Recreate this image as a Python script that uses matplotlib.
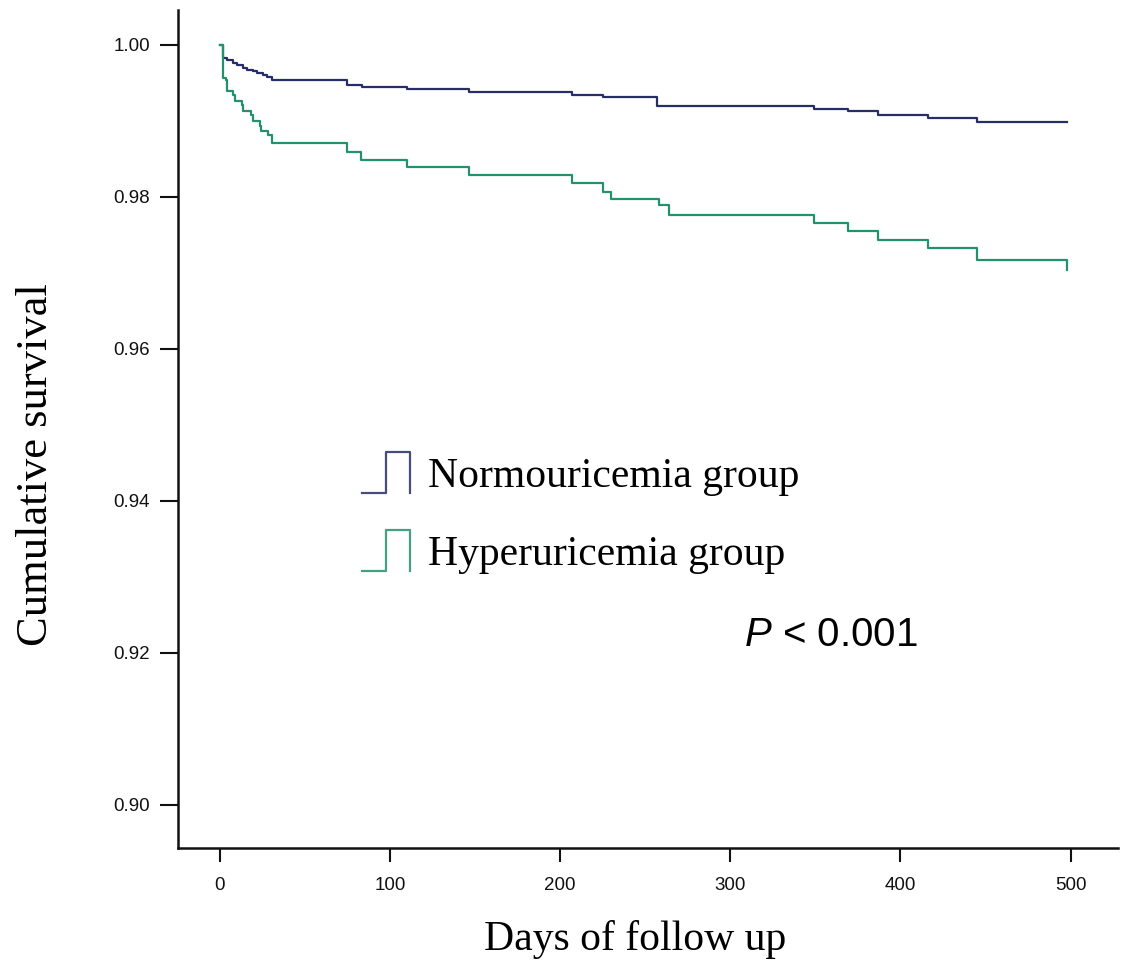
import numpy as np
import matplotlib
matplotlib.use("Agg")
import matplotlib.pyplot as plt
from matplotlib.legend_handler import HandlerBase
from matplotlib.lines import Line2D

# Kaplan-Meier step data (days, cumulative survival)
normo_days = [0, 1.8, 4, 7.6, 10, 13.5, 16, 19.4, 22, 25.3, 28, 30.4,
              75, 83.5, 110, 146.5, 207, 225, 257, 349, 369, 387, 416, 445, 498]
normo_surv = [1.0, 0.9983, 0.9980, 0.99759, 0.9973, 0.99693, 0.9967, 0.99649,
              0.9963, 0.99605, 0.9958, 0.9954, 0.9947, 0.99447, 0.9942, 0.99382,
              0.99342, 0.99307, 0.99188, 0.99158, 0.99122, 0.99079, 0.99035,
              0.98978, 0.98978]

hyper_days = [0, 1.6, 3.5, 4.5, 7.6, 8.8, 12.8, 13.5, 18.6, 19.4, 23.5, 24.5,
              28.4, 30.4, 75, 83, 110, 146.5, 207, 225, 230, 258, 264, 349,
              369, 387, 416, 445, 498]
hyper_surv = [1.0, 0.99561, 0.9954, 0.99386, 0.99342, 0.99254, 0.99211, 0.99123,
              0.99079, 0.98991, 0.98925, 0.98859, 0.98816, 0.98707, 0.98592,
              0.98487, 0.98395, 0.98289, 0.98184, 0.98066, 0.97974, 0.97886,
              0.97763, 0.97658, 0.97544, 0.97434, 0.97329, 0.97171, 0.9704]

x_ticks = [0, 100, 200, 300, 400, 500]
y_ticks = [0.90, 0.92, 0.94, 0.96, 0.98, 1.00]
labels = ["Normouricemia group", "Hyperuricemia group"]

NORMO_COLOR = "#272d66"
HYPER_COLOR = "#23916a"

plt.rcParams['mathtext.fontset'] = 'custom'
plt.rcParams['mathtext.rm'] = 'Liberation Sans'
plt.rcParams['mathtext.it'] = 'Liberation Sans:italic'


class StepHandler(HandlerBase):
    # little "_|‾|" survival-curve glyph used as legend key
    def create_artists(self, legend, orig_handle, xdescent, ydescent,
                       width, height, fontsize, trans):
        xs = np.array([0.0, 0.5, 0.5, 1.0, 1.0]) * width - xdescent
        ys = (np.array([0.0, 0.0, 1.0, 1.0, 0.0]) * 1.4 - 0.2) * height - ydescent
        line = Line2D(xs, ys, color=orig_handle.get_color(), lw=1.6, alpha=0.85)
        line.set_transform(trans)
        return [line]


fig = plt.figure(figsize=(11.25, 9.68), dpi=100)
ax = fig.add_axes([0.158, 0.124, 0.836, 0.866])

h1, = ax.step(normo_days, normo_surv, where='post', color=NORMO_COLOR, lw=1.6)
h2, = ax.step(hyper_days, hyper_surv, where='post', color=HYPER_COLOR, lw=1.6)

ax.set_xlim(-24.7, 528)
ax.set_ylim(0.8943, 1.0046)

ax.spines['top'].set_visible(False)
ax.spines['right'].set_visible(False)
for s in ('left', 'bottom'):
    ax.spines[s].set_linewidth(1.8)
    ax.spines[s].set_color('#111111')

ax.set_xticks(x_ticks)
ax.set_xticklabels([str(t) for t in x_ticks])
ax.set_yticks(y_ticks)
ax.set_yticklabels([f"{t:.2f}" for t in y_ticks])
ax.tick_params(axis='x', direction='out', length=10, width=1.5, pad=11,
               labelsize=13.5, colors='#111111')
ax.tick_params(axis='y', direction='out', length=13, width=1.5, pad=7,
               labelsize=13.5, colors='#111111')
for lab in ax.get_xticklabels() + ax.get_yticklabels():
    lab.set_family('Liberation Sans')

ax.set_xlabel("Days of follow up", family='Liberation Serif', fontsize=30)
ax.set_ylabel("Cumulative survival", family='Liberation Serif', fontsize=32)
ax.xaxis.set_label_coords(0.486, -0.086)
ax.yaxis.set_label_coords(-0.129, 0.457)

ax.legend([h1, h2], labels, handler_map={h1: StepHandler(), h2: StepHandler()},
          loc='upper left', bbox_to_anchor=(0.156, 0.51), frameon=False,
          prop={'family': 'Liberation Serif', 'size': 30},
          handlelength=1.15, handletextpad=0.43, labelspacing=0.94)

ax.text(0.694, 0.254, r"$\it{P}$ < 0.001", transform=ax.transAxes,
        family='Liberation Sans', fontsize=29, ha='center', va='center')

fig.savefig("out.png", dpi=100)
